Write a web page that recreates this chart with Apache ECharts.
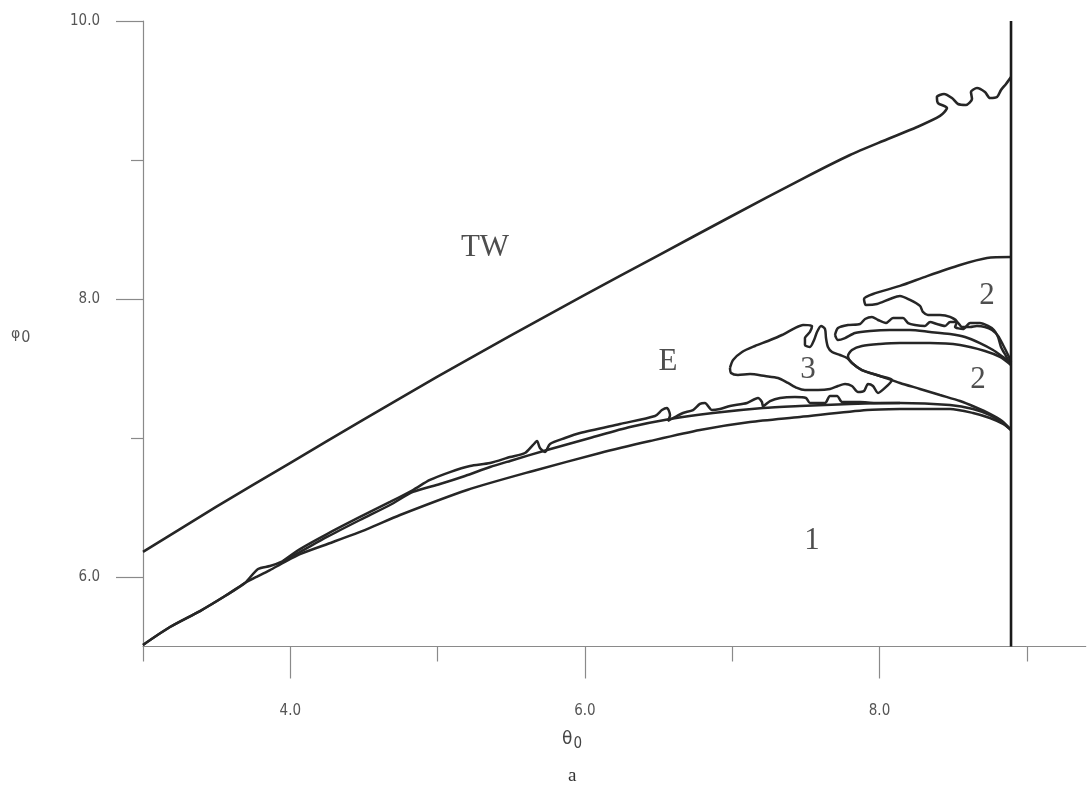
<!DOCTYPE html>
<html>
<head>
<meta charset="utf-8">
<script src="https://cdn.jsdelivr.net/npm/echarts@6/dist/echarts.min.js"></script>
<style>html,body{margin:0;padding:0;background:#fff}#c{width:1090px;height:794px}</style>
</head>
<body>
<div id="c"></div>
<script>
// ---- data (theta0, phi0) ----
const xMajorTicks = [4, 6, 8];
const xMinorTicks = [3, 5, 7, 9];
const yMajorTicks = [6, 8, 10];
const yMinorTicks = [7, 9];

const twBoundary = [[3.000,6.180],[3.496,6.504],[3.998,6.820],[4.494,7.130],[4.996,7.439],[5.492,7.734],[5.987,8.022],[6.490,8.309],[6.985,8.590],[7.487,8.870],[7.800,9.036],[8.024,9.137],[8.255,9.237],[8.411,9.317],
  [8.458,9.374],[8.397,9.410],[8.390,9.453],[8.438,9.475],[8.492,9.446],[8.533,9.403],[8.587,9.396],[8.628,9.439],[8.621,9.489],[8.662,9.518],[8.716,9.489],[8.750,9.446],[8.798,9.453],[8.825,9.504],[8.859,9.547],[8.893,9.597]];

const edgeLine = [[8.893,5.5],[8.893,10.0]];

const curve1 = [[3.000,5.511],[3.183,5.640],[3.387,5.755],[3.557,5.863],[3.692,5.957],[3.781,6.007],[3.862,6.050],[3.950,6.101],[4.066,6.165],[4.290,6.252],[4.521,6.345],[4.745,6.446],[5.200,6.626],[5.648,6.763],[6.103,6.892],[6.442,6.978],[6.781,7.058],[7.121,7.115],[7.460,7.151],[7.915,7.201],[8.139,7.208],[8.479,7.209],[8.635,7.180],[8.750,7.144],[8.839,7.101],[8.893,7.058]];

const curve2 = [[3.000,5.511],[3.183,5.640],[3.387,5.755],[3.557,5.863],[3.692,5.957],[3.781,6.058],[3.862,6.079],[3.950,6.115],[4.066,6.180],[4.249,6.288],[4.473,6.410],[4.677,6.518],[4.833,6.612],[5.016,6.669],[5.186,6.727],[5.356,6.791],[5.492,6.835],[5.743,6.914],[6.035,7.000],[6.306,7.079],[6.578,7.137],[6.870,7.180],[7.209,7.216],[7.460,7.230],[7.800,7.245],[8.139,7.252],[8.479,7.237],[8.635,7.209],[8.750,7.165],[8.839,7.108],[8.893,7.058]];

const curve3 = [[3.950,6.115],[4.066,6.201],[4.249,6.309],[4.473,6.432],[4.677,6.540],[4.833,6.626],[4.948,6.698],[5.084,6.755],[5.220,6.799],[5.356,6.820],[5.492,6.863],[5.593,6.892],[5.648,6.950],[5.675,6.978],[5.695,6.928],[5.729,6.899],[5.763,6.957],[5.865,7.000],[5.967,7.036],[6.238,7.101],[6.476,7.158],[6.523,7.201],[6.557,7.216],[6.578,7.165],[6.564,7.122],[6.612,7.151],[6.666,7.180],[6.734,7.201],[6.781,7.245],[6.815,7.252],[6.863,7.201],[6.917,7.209],[6.985,7.230],[7.101,7.252],[7.175,7.288],[7.202,7.259],[7.209,7.230],[7.257,7.266],[7.325,7.288],[7.426,7.295],[7.501,7.288],[7.528,7.252],[7.630,7.252],[7.664,7.302],[7.712,7.302],[7.746,7.259],[7.868,7.259],[7.970,7.252],[8.071,7.252],[8.139,7.252]];

const region3 = [[6.985,7.504],[7.006,7.561],[7.067,7.619],[7.155,7.662],[7.243,7.698],[7.338,7.741],[7.426,7.791],[7.481,7.813],[7.542,7.806],[7.528,7.763],[7.494,7.719],[7.494,7.669],[7.528,7.655],[7.556,7.705],[7.576,7.763],[7.603,7.806],[7.630,7.784],[7.637,7.719],[7.650,7.655],[7.678,7.619],[7.732,7.597],[7.779,7.576],[7.813,7.540],[7.881,7.489],[8.003,7.446],[8.085,7.418],[8.037,7.360],[7.990,7.324],[7.956,7.374],[7.922,7.388],[7.895,7.338],[7.854,7.331],[7.813,7.374],[7.766,7.388],[7.718,7.374],[7.664,7.353],[7.583,7.345],[7.494,7.345],[7.440,7.360],[7.379,7.396],[7.311,7.432],[7.223,7.446],[7.121,7.460],[7.039,7.453],[6.992,7.468],[6.985,7.504]];

const midStrip = [[7.698,7.741],[7.718,7.791],[7.786,7.813],[7.868,7.820],[7.902,7.856],[7.949,7.871],[7.990,7.849],[8.044,7.827],[8.092,7.863],[8.160,7.863],[8.194,7.827],[8.241,7.813],[8.309,7.806],[8.343,7.835],[8.390,7.820],[8.445,7.806],[8.479,7.835],[8.526,7.835],[8.560,7.799],[8.615,7.799],[8.662,7.806],[8.716,7.799],[8.764,7.777],[8.805,7.734],[8.839,7.669],[8.873,7.597],[8.893,7.547],
  [8.839,7.583],[8.771,7.633],[8.682,7.683],[8.581,7.727],[8.479,7.748],[8.343,7.763],[8.207,7.777],[8.071,7.777],[7.936,7.770],[7.834,7.755],[7.766,7.719],[7.718,7.705],[7.698,7.741]];

const region2Upper = [[8.893,8.302],[8.730,8.295],[8.547,8.245],[8.323,8.165],[8.139,8.094],[7.956,8.036],[7.895,8.000],[7.908,7.957],[7.983,7.964],[8.071,8.000],[8.139,8.022],[8.207,7.993],[8.275,7.950],[8.295,7.907],[8.329,7.885],[8.411,7.885],[8.479,7.871],[8.526,7.835],[8.513,7.799],[8.567,7.784],[8.615,7.827],[8.682,7.827],[8.737,7.806],[8.777,7.777],[8.805,7.727],[8.825,7.655],[8.859,7.590],[8.893,7.525]];

const region2Lower = [[8.893,7.525],[8.818,7.583],[8.716,7.626],[8.547,7.669],[8.343,7.683],[8.139,7.683],[8.003,7.676],[7.881,7.662],[7.813,7.633],[7.786,7.590],[7.813,7.540],[7.881,7.489],[8.003,7.446],[8.139,7.396],[8.275,7.353],[8.411,7.309],[8.547,7.266],[8.648,7.223],[8.750,7.173],[8.832,7.122],[8.893,7.058]];

const regionNames = ['TW', 'E', '3', '2', '2', '1'];
const regionX = [5.322, 6.564, 7.515, 8.730, 8.669, 7.542];
const regionY = [8.367, 7.547, 7.489, 8.022, 7.417, 6.259];

// ---- chart ----
const chart = echarts.init(document.getElementById('c'), null, {renderer: 'canvas'});
const ink = '#262626';
const axisGray = '#8a8a8a';
const labelFont = "'Liberation Sans Narrow','DejaVu Sans Condensed','Liberation Sans',sans-serif";

function curve(data, w) {
  return {type: 'line', data: data, showSymbol: false, symbol: 'none', smooth: 0.25,
    lineStyle: {color: ink, width: w || 2.5}, xAxisIndex: 0, yAxisIndex: 0, silent: true, z: 3};
}

const option = {
  animation: false,
  backgroundColor: '#ffffff',
  grid: {left: 143, top: 21, width: 942.7, height: 625.5, containLabel: false},
  xAxis: [
    {type: 'value', min: 3, max: 9.4, position: 'bottom',
      axisLine: {show: true, lineStyle: {color: axisGray, width: 1.2}},
      axisTick: {show: true, length: 32, customValues: xMajorTicks, lineStyle: {color: axisGray, width: 1.2}},
      axisLabel: {show: true, customValues: xMajorTicks, margin: 57, color: '#555', fontSize: 15, fontFamily: labelFont,
        formatter: v => v.toFixed(1)},
      splitLine: {show: false}},
    {type: 'value', min: 3, max: 9.4, position: 'bottom',
      axisLine: {show: false},
      axisTick: {show: true, length: 15, customValues: xMinorTicks, lineStyle: {color: axisGray, width: 1.2}},
      axisLabel: {show: false}, splitLine: {show: false}}
  ],
  yAxis: [
    {type: 'value', min: 5.5, max: 10, position: 'left',
      axisLine: {show: true, lineStyle: {color: axisGray, width: 1.2}},
      axisTick: {show: true, length: 27, customValues: yMajorTicks, lineStyle: {color: axisGray, width: 1.2}},
      axisLabel: {show: true, customValues: yMajorTicks, margin: 43, color: '#555', fontSize: 15, fontFamily: labelFont,
        formatter: v => v.toFixed(1)},
      splitLine: {show: false}},
    {type: 'value', min: 5.5, max: 10, position: 'left',
      axisLine: {show: false},
      axisTick: {show: true, length: 12, customValues: yMinorTicks, lineStyle: {color: axisGray, width: 1.2}},
      axisLabel: {show: false}, splitLine: {show: false}}
  ],
  series: [
    curve(twBoundary, 2.6),
    curve(curve1),
    curve(curve2),
    curve(curve3),
    curve(region3),
    curve(midStrip),
    curve(region2Upper),
    curve(region2Lower),
    {type: 'line', data: edgeLine, showSymbol: false, symbol: 'none', lineStyle: {color: '#1a1a1a', width: 2.6}, z: 4, silent: true},
    {type: 'scatter', symbolSize: 0, silent: true, z: 5,
      data: regionNames.map((n, i) => ({name: n, value: [regionX[i], regionY[i]]})),
      label: {show: true, position: 'inside', formatter: p => p.name, color: '#222',
        fontFamily: "'Liberation Serif','DejaVu Serif',serif", fontSize: 31}}
  ],
  graphic: [
    {type: 'text', left: 562, top: 731, silent: true,
      style: {text: '{a|θ}{b|0}', rich: {a: {fontSize: 17, fontFamily: "'DejaVu Sans',sans-serif", fill: '#444'},
        b: {fontSize: 15, fontFamily: "'Liberation Sans Narrow','DejaVu Sans Condensed',sans-serif", fill: '#444', padding: [10, 0, 0, 1]}}}},
    {type: 'text', left: 568, top: 767, silent: true,
      style: {text: 'a', fontSize: 19, fontFamily: "'Liberation Serif',serif", fill: '#333'}},
    {type: 'text', left: 11, top: 327, silent: true,
      style: {text: '{a|φ}{b|0}', rich: {a: {fontSize: 14, fontFamily: "'DejaVu Sans',sans-serif", fill: '#555'},
        b: {fontSize: 16, fontFamily: "'Liberation Sans Narrow','DejaVu Sans Condensed',sans-serif", fill: '#555', padding: [8, 0, 0, 1]}}}}
  ]
};
chart.setOption(option);
</script>
</body>
</html>
